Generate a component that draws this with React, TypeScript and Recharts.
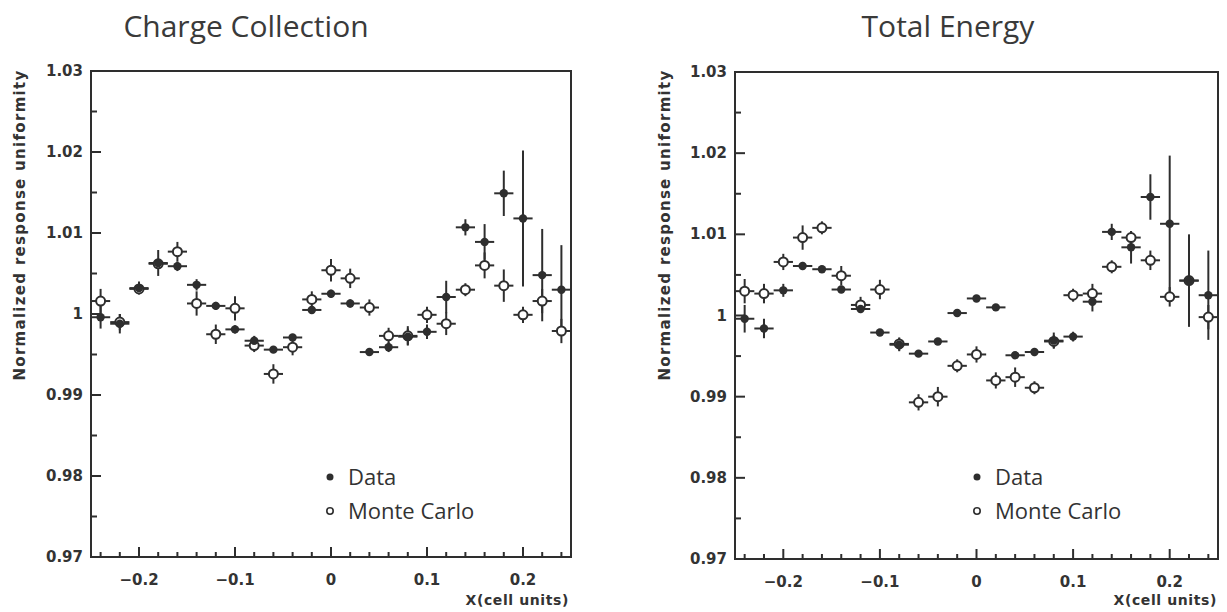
import React from 'react'
import { ScatterChart, Scatter, XAxis, YAxis, ErrorBar, ReferenceArea } from 'recharts'

// bin centres (cell units) and half bin width
const X_BINS = [
  -0.24, -0.22, -0.2, -0.18, -0.16, -0.14, -0.12, -0.1, -0.08, -0.06, -0.04, -0.02, 0,
  0.02, 0.04, 0.06, 0.08, 0.1, 0.12, 0.14, 0.16, 0.18, 0.2, 0.22, 0.24,
]
const BIN_HALF = 0.01

// Charge Collection
const CHARGE_DATA = [
  0.9996, 0.9988, 1.0032, 1.0063, 1.0059, 1.0036, 1.001, 0.9981, 0.9967, 0.9956, 0.9971, 1.0005, 1.0025,
  1.0013, 0.9953, 0.9959, 0.9972, 0.9978, 1.0021, 1.0107, 1.0089, 1.0149, 1.0118, 1.0048, 1.003,
]
const CHARGE_DATA_ERR = [
  0.0014, 0.0012, 0.0008, 0.0016, 0.0006, 0.0007, 0.0005, 0.0005, 0.0006, 0.0004, 0.0004, 0.0005, 0.0005,
  0.0005, 0.0004, 0.0006, 0.001, 0.0009, 0.002, 0.001, 0.0022, 0.0028, 0.0084, 0.0057, 0.0055,
]
const CHARGE_MC = [
  1.0016, 0.999, 1.0031, 1.0062, 1.0077, 1.0013, 0.9975, 1.0007, 0.9961, 0.9926, 0.9959, 1.0018, 1.0054,
  1.0044, 1.0008, 0.9973, 0.9973, 0.9999, 0.9988, 1.003, 1.006, 1.0035, 0.9999, 1.0016, 0.9979,
]
const CHARGE_MC_ERR = [
  0.0015, 0.001, 0.0006, 0.0006, 0.0012, 0.0015, 0.0012, 0.0015, 0.0008, 0.0012, 0.001, 0.001, 0.0014,
  0.0012, 0.001, 0.001, 0.0012, 0.001, 0.0014, 0.0008, 0.0016, 0.002, 0.001, 0.0015, 0.0015,
]

// Total Energy
const ENERGY_DATA = [
  0.9996, 0.9984, 1.0031, 1.0061, 1.0057, 1.0032, 1.0008, 0.9979, 0.9964, 0.9953, 0.9968, 1.0003, 1.0021,
  1.001, 0.9951, 0.9955, 0.9969, 0.9974, 1.0017, 1.0103, 1.0084, 1.0146, 1.0113, 1.0043, 1.0025,
]
const ENERGY_DATA_ERR = [
  0.0017, 0.0012, 0.0008, 0.0005, 0.0004, 0.0004, 0.0004, 0.0003, 0.0008, 0.0003, 0.0003, 0.0003, 0.0003,
  0.0003, 0.0004, 0.0005, 0.001, 0.0006, 0.0012, 0.001, 0.002, 0.0028, 0.0084, 0.0057, 0.0055,
]
const ENERGY_MC = [
  1.003, 1.0027, 1.0066, 1.0096, 1.0108, 1.0049, 1.0013, 1.0032, 0.9965, 0.9893, 0.99, 0.9938, 0.9952,
  0.992, 0.9924, 0.9911, 0.9968, 1.0025, 1.0027, 1.006, 1.0096, 1.0068, 1.0023, 1.0043, 0.9998,
]
const ENERGY_MC_ERR = [
  0.0015, 0.0012, 0.001, 0.0015, 0.0008, 0.0012, 0.001, 0.0012, 0.0008, 0.001, 0.0012, 0.0008, 0.001,
  0.001, 0.0012, 0.0008, 0.0008, 0.0008, 0.0012, 0.0008, 0.0008, 0.0012, 0.0012, 0.0008, 0.0015,
]

const X_MAJOR_TICKS = [-0.2, -0.1, 0, 0.1, 0.2]
const X_MINOR_TICKS = [
  -0.24, -0.22, -0.18, -0.16, -0.14, -0.12, -0.08, -0.06, -0.04, -0.02,
  0.02, 0.04, 0.06, 0.08, 0.12, 0.14, 0.16, 0.18, 0.22, 0.24,
]
const Y_MAJOR_TICKS = [0.97, 0.98, 0.99, 1, 1.01, 1.02, 1.03]
const Y_MINOR_TICKS = [0.975, 0.985, 0.995, 1.005, 1.015, 1.025]

const SERIES_NAMES = ['Data', 'Monte Carlo']
const Y_LABEL = 'Normalized response uniformity'
const X_LABEL = 'X(cell units)'

const INK = '#2e2e2e'
const TICK_FONT = '"DejaVu Sans", sans-serif'
const TEXT_FONT = '"Open Sans", sans-serif'

const build = (ys: number[], errs: number[]) =>
  X_BINS.map((x, i) => ({ x, y: ys[i], ey: errs[i], ex: BIN_HALF }))

const isIn = (list: number[], v: number) => list.some(t => Math.abs(t - v) < 1e-6)

const fmtX = (v: number) => (Math.abs(v) < 1e-9 ? '0' : v < 0 ? '\u2212' + Math.abs(v) : String(v))

// axis is 1px thick, so the tick anchor sits on the plot edge
const XTick = (props: any) => {
  const { x, y, payload } = props
  const major = isIn(X_MAJOR_TICKS, payload.value)
  const y0 = y - 1
  return (
    <g>
      <line x1={x} x2={x} y1={y0} y2={y0 - (major ? 9 : 4)} stroke={INK} strokeWidth={2} />
      {major && (
        <text x={x} y={y0 + 29} textAnchor="middle" fontFamily={TICK_FONT} fontWeight="bold" fontSize={15} fill="#333">
          {fmtX(payload.value)}
        </text>
      )}
    </g>
  )
}

const YTick = (props: any) => {
  const { x, y, payload } = props
  const major = isIn(Y_MAJOR_TICKS, payload.value)
  const x0 = x + 1
  return (
    <g>
      <line x1={x0} x2={x0 + (major ? 9 : 5)} y1={y} y2={y} stroke={INK} strokeWidth={2} />
      {major && (
        <text x={x0 - 9} y={y + 5} textAnchor="end" fontFamily={TICK_FONT} fontWeight="bold" fontSize={15} fill="#333">
          {String(payload.value)}
        </text>
      )}
    </g>
  )
}

const DataDot = (p: any) => <circle cx={p.cx} cy={p.cy} r={4.2} fill={INK} />
const McDot = (p: any) => <circle cx={p.cx} cy={p.cy} r={4.5} fill="#fff" stroke={INK} strokeWidth={2} />

interface PanelProps {
  left: number
  width: number
  margin: { top: number; right: number; bottom: number; left: number }
  data: { x: number; y: number; ey: number; ex: number }[]
  mc: { x: number; y: number; ey: number; ex: number }[]
}

function Panel({ left, width, margin, data, mc }: PanelProps) {
  return (
    <div style={{ position: 'absolute', left, top: 0 }}>
      <ScatterChart width={width} height={612} margin={margin}>
        <XAxis
          type="number"
          dataKey="x"
          domain={[-0.25, 0.25]}
          ticks={[...X_MAJOR_TICKS, ...X_MINOR_TICKS].sort((a, b) => a - b)}
          interval={0}
          height={1}
          tickSize={0}
          tickMargin={0}
          axisLine={false}
          tickLine={false}
          tick={(p: any) => <XTick {...p} />}
          allowDataOverflow
        />
        <YAxis
          type="number"
          dataKey="y"
          domain={[0.97, 1.03]}
          ticks={[...Y_MAJOR_TICKS, ...Y_MINOR_TICKS].sort((a, b) => a - b)}
          interval={0}
          width={1}
          tickSize={0}
          tickMargin={0}
          axisLine={false}
          tickLine={false}
          tick={(p: any) => <YTick {...p} />}
          allowDataOverflow
        />
        <ReferenceArea x1={-0.25} x2={0.25} y1={0.97} y2={1.03} fill="none" stroke={INK} strokeWidth={2} strokeOpacity={1} />
        <Scatter name={SERIES_NAMES[1]} data={mc} shape={McDot} isAnimationActive={false}>
          <ErrorBar dataKey="ey" direction="y" width={0} stroke={INK} strokeWidth={2} isAnimationActive={false} />
          <ErrorBar dataKey="ex" direction="x" width={0} stroke={INK} strokeWidth={2} isAnimationActive={false} />
        </Scatter>
        <Scatter name={SERIES_NAMES[0]} data={data} shape={DataDot} isAnimationActive={false}>
          <ErrorBar dataKey="ey" direction="y" width={0} stroke={INK} strokeWidth={2} isAnimationActive={false} />
          <ErrorBar dataKey="ex" direction="x" width={0} stroke={INK} strokeWidth={2} isAnimationActive={false} />
        </Scatter>
      </ScatterChart>
    </div>
  )
}

// titles, axis titles and legend drawn on top
function Overlay() {
  const panels = [
    { title: 'Charge Collection', titleX: 246, yLabelX: 25, xLabelX: 569, legendX: 330 },
    { title: 'Total Energy', titleX: 948, yLabelX: 670, xLabelX: 1217, legendX: 977 },
  ]
  return (
    <svg width={1227} height={612} style={{ position: 'absolute', left: 0, top: 0, pointerEvents: 'none' }}>
      {panels.map(p => (
        <g key={p.title}>
          <text x={p.titleX} y={37} textAnchor="middle" fontFamily={TEXT_FONT} fontSize={30} fill="#3a3a3a">
            {p.title}
          </text>
          <text
            transform={`translate(${p.yLabelX},225) rotate(-90)`}
            textAnchor="middle"
            fontFamily={TICK_FONT}
            fontWeight="bold"
            fontSize={15}
            letterSpacing={1.3}
            fill="#333"
          >
            {Y_LABEL}
          </text>
          <text
            x={p.xLabelX}
            y={605}
            textAnchor="end"
            fontFamily={TICK_FONT}
            fontWeight="bold"
            fontSize={14}
            letterSpacing={0.6}
            fill="#333"
          >
            {X_LABEL}
          </text>
          <circle cx={p.legendX} cy={477} r={3.5} fill={INK} />
          <text x={p.legendX + 18} y={485} fontFamily={TEXT_FONT} fontSize={22} fill="#333">
            {SERIES_NAMES[0]}
          </text>
          <circle cx={p.legendX} cy={511} r={3.2} fill="#fff" stroke={INK} strokeWidth={1.6} />
          <text x={p.legendX + 18} y={519} fontFamily={TEXT_FONT} fontSize={22} fill="#333">
            {SERIES_NAMES[1]}
          </text>
        </g>
      ))}
    </svg>
  )
}

export default function App() {
  return (
    <div style={{ position: 'absolute', left: 0, top: 0, width: 1227, height: 612, background: '#fff' }}>
      <Panel
        left={0}
        width={614}
        margin={{ top: 71, right: 43, bottom: 54, left: 90 }}
        data={build(CHARGE_DATA, CHARGE_DATA_ERR)}
        mc={build(CHARGE_MC, CHARGE_MC_ERR)}
      />
      <Panel
        left={614}
        width={613}
        margin={{ top: 72, right: 9, bottom: 52, left: 120 }}
        data={build(ENERGY_DATA, ENERGY_DATA_ERR)}
        mc={build(ENERGY_MC, ENERGY_MC_ERR)}
      />
      <Overlay />
    </div>
  )
}
